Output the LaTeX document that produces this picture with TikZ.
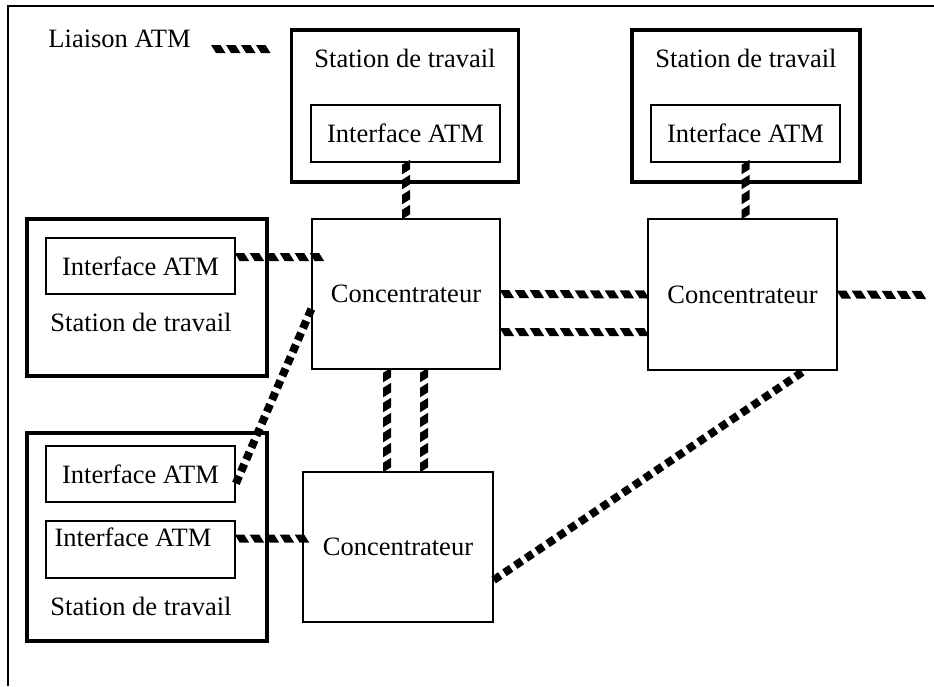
\documentclass[tikz,border=0pt]{standalone}
\usepackage{fontspec}
\setmainfont{Liberation Serif}
\usetikzlibrary{decorations.markings,calc}
\begin{document}
\begin{tikzpicture}[x=1pt,y=-1pt,
  every node/.style={font=\fontsize{26.5}{30}\selectfont, inner sep=0pt},
  ws/.style={draw, line width=3.2pt},
  thinbox/.style={draw, line width=1.3pt},
  atm/.style={decorate, decoration={markings,
     mark=between positions 0 and 1 step 15pt with
       {\fill (-1pt,4pt)--(8.5pt,4pt)--(13.5pt,-4pt)--(4pt,-4pt)--cycle;}}},
  dotlink/.style={line width=8pt, dash pattern=on 8pt off 5pt}]
\useasboundingbox (0,0) rectangle (934,686);
\draw[line width=1.5pt] (8,686) -- (8,6) -- (934,6);

% legend
\node (leg) at (119.5,39) {Liaison ATM};
\coordinate (lg1) at (212,49);
\coordinate (lg2) at (258,49);

% workstations
\node[ws, minimum width=227pt, minimum height=152pt] (w1) at (405,106) {};
\node (w1t) at (405,58) {Station de travail};
\node[thinbox, minimum width=189pt, minimum height=57pt] (i1) at (405.5,133.5) {Interface ATM};

\node[ws, minimum width=228pt, minimum height=152pt] (w2) at (746,106) {};
\node (w2t) at (746,58) {Station de travail};
\node[thinbox, minimum width=189pt, minimum height=57pt] (i2) at (745.5,133.5) {Interface ATM};

\node[ws, minimum width=240pt, minimum height=157pt] (w3) at (147,297.5) {};
\node[thinbox, minimum width=189pt, minimum height=56pt] (i3) at (140.5,266) {Interface ATM};
\node (w3t) at (141,322) {Station de travail};

\node[ws, minimum width=240pt, minimum height=208pt] (w4) at (147,537) {};
\node[thinbox, minimum width=189pt, minimum height=56pt] (i4) at (140.5,474) {Interface ATM};
\node[thinbox, minimum width=189pt, minimum height=57pt] (i5) at (140.5,549.5) {};
\node (i5t) at (133,537.5) {Interface ATM};
\node (w4t) at (141,606) {Station de travail};

% concentrators
\node[thinbox, minimum width=188pt, minimum height=150pt] (c1) at (406,294) {Concentrateur};
\node[thinbox, minimum width=189pt, minimum height=151pt] (c2) at (742.5,294.5) {Concentrateur};
\node[thinbox, minimum width=190pt, minimum height=150pt] (c3) at (398,547) {Concentrateur};

% helper coordinates
\coordinate (p3) at ([yshift=9pt]i3.east);
\coordinate (p5) at ([yshift=-38pt]c1.east);
\coordinate (rend) at (924,295);
\coordinate (v1) at ([xshift=-19pt]c1.south);
\coordinate (v2) at ([xshift=18pt]c1.south);
\coordinate (p9) at ([yshift=11pt]i5.east);
\coordinate (d1a) at ([yshift=-33pt]c3.east);
\coordinate (d1b) at ([xshift=62pt]c2.south);
\coordinate (d2a) at ([yshift=-15pt]c1.west);
\coordinate (d2b) at ([yshift=-10pt]i4.east);

% ATM links
\path[atm] (lg1) -- (lg2);
\path[atm] (c1.north) -- (c1.north |- i1.south);
\path[atm] (i2.south |- c2.north) -- (i2.south);
\path[atm] (p3) -- (p3 -| c1.west);
\path[atm] (c1.east) -- (c2.west);
\path[atm] (p5) -- (p5 -| c2.west);
\path[atm] (c2.east) -- (rend);
\path[atm] (v1 |- c3.north) -- (v1);
\path[atm] (v2 |- c3.north) -- (v2);
\path[atm] (p9) -- (p9 -| c3.west);
\draw[dotlink] (d1a) -- (d1b);
\draw[dotlink] (d2a) -- (d2b);
\end{tikzpicture}
\end{document}
